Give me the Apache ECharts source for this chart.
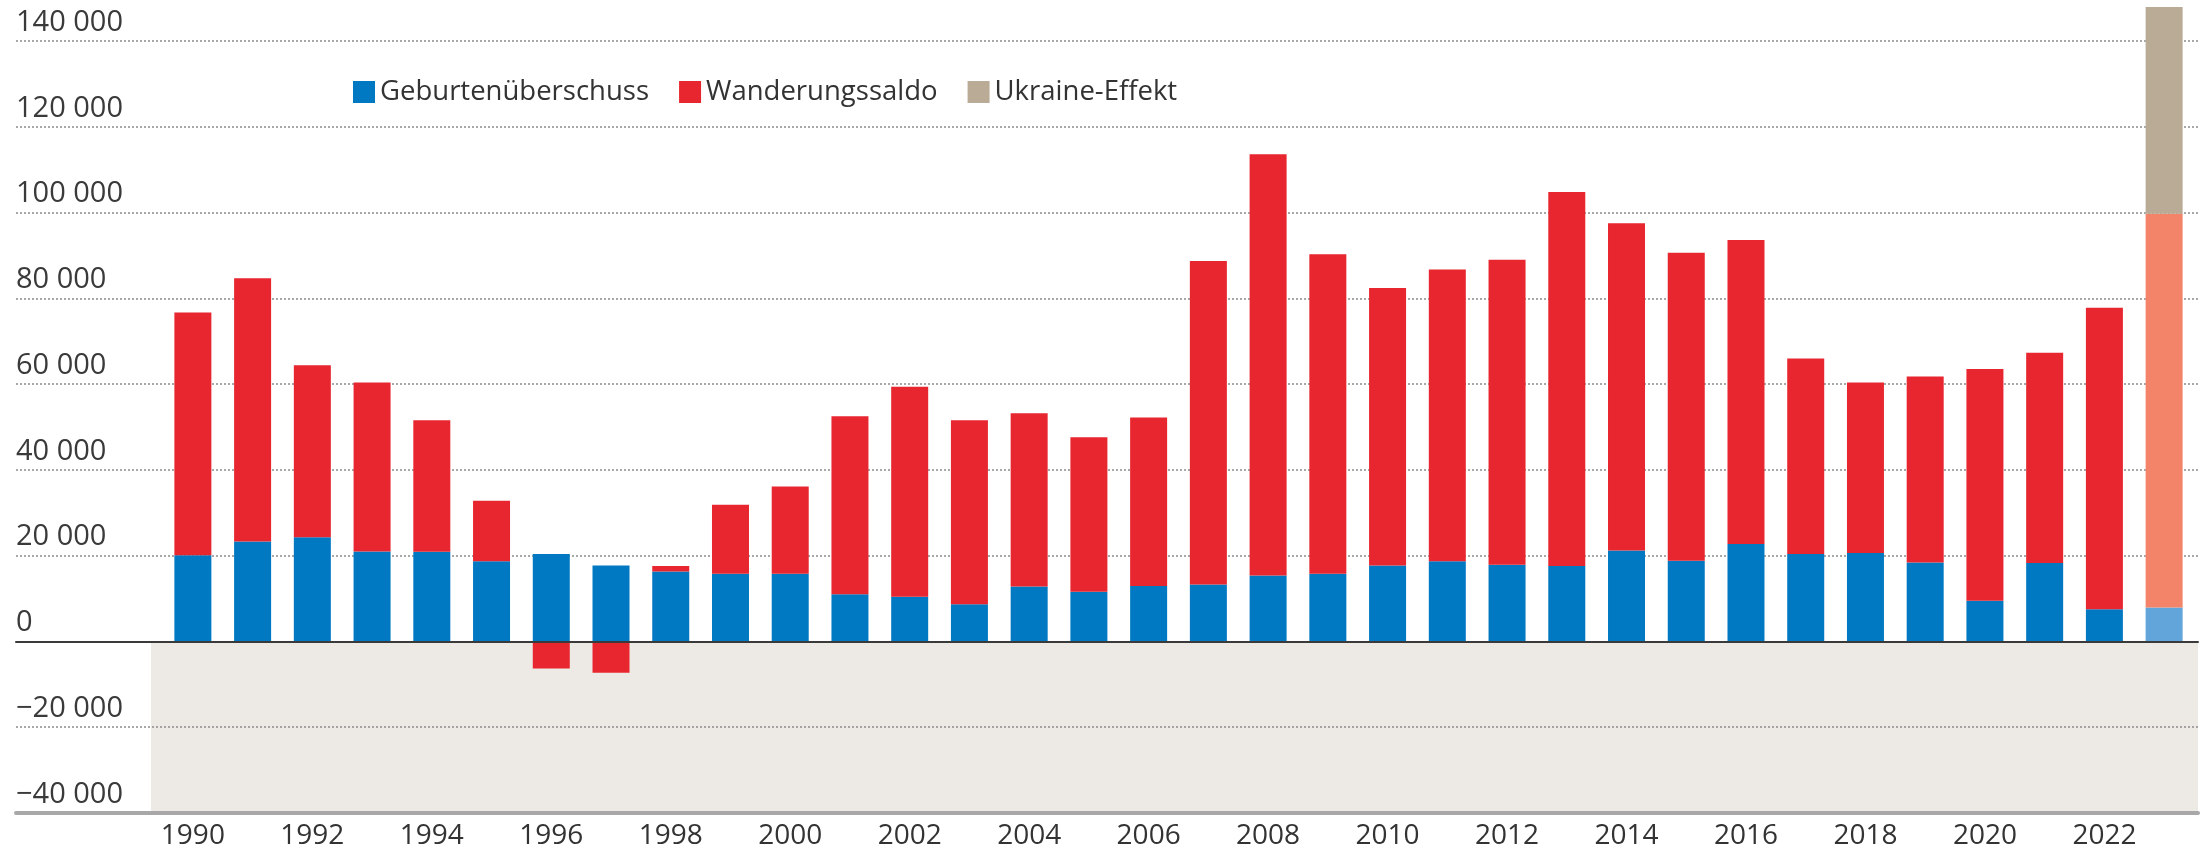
<!DOCTYPE html>
<html>
<head>
<meta charset="utf-8">
<style>
  html, body { margin: 0; padding: 0; background: #fff; }
  #chart { width: 2208px; height: 852px; }
</style>
<script src="https://cdn.jsdelivr.net/npm/echarts@6/dist/echarts.min.js"></script>
</head>
<body>
<div id="chart"></div>
<script>
// Bevölkerungswachstum: Geburtenüberschuss, Wanderungssaldo, Ukraine-Effekt
var years = ['1990', '1991', '1992', '1993', '1994', '1995', '1996', '1997', '1998', '1999',
  '2000', '2001', '2002', '2003', '2004', '2005', '2006', '2007', '2008', '2009',
  '2010', '2011', '2012', '2013', '2014', '2015', '2016', '2017', '2018', '2019',
  '2020', '2021', '2022', '2023'];
var geburten = [20100, 23300, 24300, 21000, 20900, 18700, 20400, 17700, 16300, 15800,
  15800, 11000, 10400, 8700, 12800, 11600, 12900, 13300, 15400, 15800,
  17700, 18700, 17900, 17600, 21200, 18800, 22700, 20400, 20600, 18400,
  9500, 18300, 7500, 7900];
var wanderung = [56600, 61400, 40100, 39400, 30700, 14100, -6300, -7300, 1300, 16100,
  20300, 41500, 49000, 42900, 40400, 36000, 39300, 75400, 98200, 74500,
  64700, 68000, 71100, 87200, 76300, 71800, 70900, 45600, 39800, 43400,
  54000, 49000, 70300, 91800];
var ukraine = [null, null, null, null, null, null, null, null, null, null,
  null, null, null, null, null, null, null, null, null, null,
  null, null, null, null, null, null, null, null, null, null,
  null, null, null, 48200];
var seriesNames = ['Geburtenüberschuss', 'Wanderungssaldo', 'Ukraine-Effekt'];
var yMin = -40000, yMax = 140000, yStep = 20000;

var myChart = echarts.init(document.getElementById('chart'));
var font = 'Open Sans';

function fmt(v) {
  var s = Math.abs(v).toString().replace(/\B(?=(\d{3})+(?!\d))/g, ' ');
  return (v < 0 ? '\u2212' : '') + s;
}
// letztes Jahr (2023) heller eingefärbt
function markLast(arr, color) {
  return arr.map(function (v, i) {
    return i === arr.length - 1 ? { value: v, itemStyle: { color: color } } : v;
  });
}

var option = {
  animation: false,
  textStyle: { fontFamily: font },
  legend: {
    data: seriesNames,
    left: 348,
    top: 73,
    icon: 'rect',
    itemWidth: 22,
    itemHeight: 22,
    itemGap: 30,
    textStyle: { fontSize: 27.5, color: '#333', fontFamily: font }
  },
  grid: [
    { left: 16, right: 10, top: 41, bottom: 39 },   // Raster + Achsen
    { left: 151, right: 10, top: 41, bottom: 39 },  // grauer Bereich
    { left: 163, right: 14, top: 41, bottom: 39 }   // Balken
  ],
  xAxis: [
    {
      gridIndex: 0, type: 'value', min: 0, max: 1, z: 11,
      axisLabel: { show: false }, axisTick: { show: false }, splitLine: { show: false },
      axisLine: { show: true, onZero: true, lineStyle: { color: '#3a3a3a', width: 2 } }
    },
    {
      gridIndex: 0, type: 'value', min: 0, max: 1, position: 'bottom', z: 11,
      axisLabel: { show: false }, axisTick: { show: false }, splitLine: { show: false },
      axisLine: { show: true, onZero: false, lineStyle: { color: '#a8a8a8', width: 4 } }
    },
    { gridIndex: 1, type: 'value', min: 0, max: 1, show: false },
    {
      gridIndex: 2, type: 'category', data: years,
      axisLine: { show: false }, axisTick: { show: false },
      axisLabel: { interval: 1, margin: 9, fontSize: 28, color: '#333', fontFamily: font }
    }
  ],
  yAxis: [
    {
      gridIndex: 0, type: 'value', min: yMin, max: yMax, interval: yStep, z: 3,
      axisLine: { show: false }, axisTick: { show: false },
      axisLabel: {
        inside: true, margin: 0, fontSize: 29, color: '#3a3a3a', fontFamily: font,
        verticalAlign: 'bottom', padding: [0, 0, 4, 0],
        formatter: fmt
      },
      splitLine: { lineStyle: { color: '#8c8c8c', width: 1.5, type: [2, 2] } }
    },
    { gridIndex: 1, type: 'value', min: yMin, max: yMax, show: false },
    { gridIndex: 2, type: 'value', min: yMin, max: yMax, show: false }
  ],
  series: [
    {
      type: 'line', xAxisIndex: 2, yAxisIndex: 1, data: [], silent: true, z: 0,
      markArea: {
        silent: true,
        itemStyle: { color: '#edeae5' },
        data: [[{ yAxis: yMin }, { yAxis: 0 }]]
      }
    },
    {
      name: seriesNames[0], type: 'bar', xAxisIndex: 3, yAxisIndex: 2,
      stack: 'total', barWidth: 37, clip: false, z: 10,
      itemStyle: { color: '#0079c2' },
      data: markLast(geburten, '#62a5da')
    },
    {
      name: seriesNames[1], type: 'bar', xAxisIndex: 3, yAxisIndex: 2,
      stack: 'total', barWidth: 37, clip: false, z: 10,
      itemStyle: { color: '#e8262f' },
      data: markLast(wanderung, '#f38469')
    },
    {
      name: seriesNames[2], type: 'bar', xAxisIndex: 3, yAxisIndex: 2,
      stack: 'total', barWidth: 37, clip: false, z: 10,
      itemStyle: { color: '#b9ab95' },
      data: ukraine
    }
  ]
};
myChart.setOption(option);
window.addEventListener('resize', function () {
  myChart.resize();
});
</script>
</body>
</html>
